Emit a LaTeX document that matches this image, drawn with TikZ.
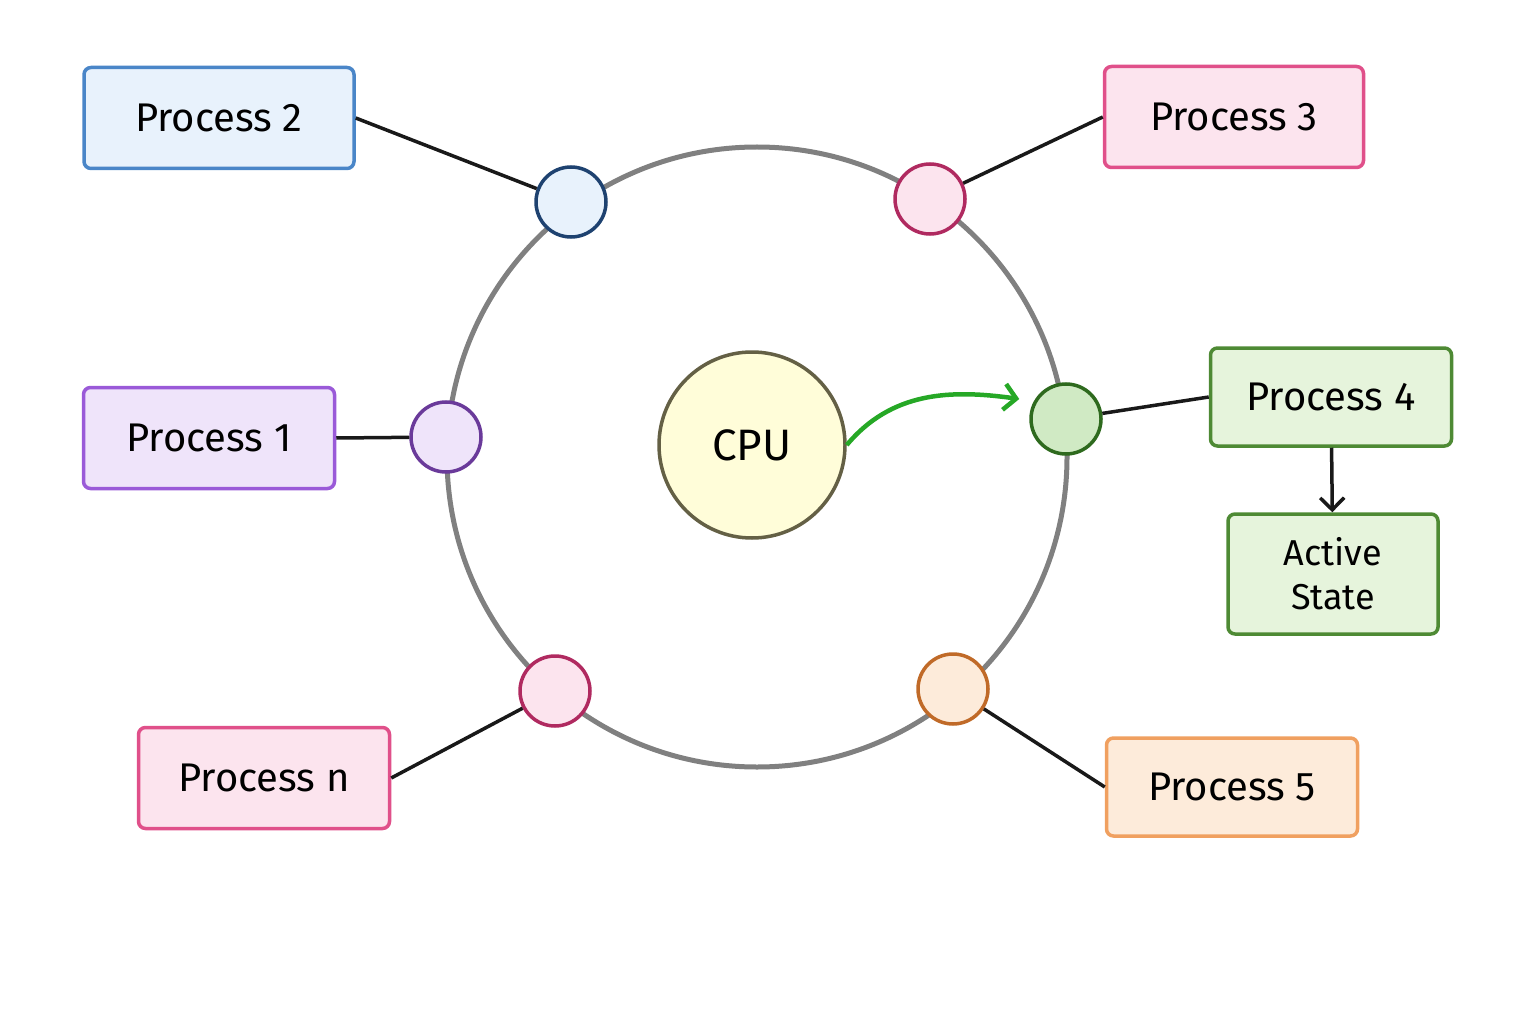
\documentclass[tikz,border=0pt]{standalone}
\usepackage{fontspec}
\setmainfont{Fira Sans}
\usetikzlibrary{arrows.meta}
\definecolor{bB}{HTML}{4A86C8}\definecolor{bF}{HTML}{E8F2FC}\definecolor{bD}{HTML}{1E4270}
\definecolor{pB}{HTML}{E0508A}\definecolor{pF}{HTML}{FCE4EE}\definecolor{pD}{HTML}{B02A60}
\definecolor{vB}{HTML}{9A5AD8}\definecolor{vF}{HTML}{EFE4FA}\definecolor{vD}{HTML}{6A3A9A}
\definecolor{gB}{HTML}{4E8A34}\definecolor{gF}{HTML}{E6F4DC}\definecolor{gD}{HTML}{2E6A1E}
\definecolor{oB}{HTML}{F0A060}\definecolor{oF}{HTML}{FDEBDA}\definecolor{oD}{HTML}{C06A28}
\definecolor{gF2}{HTML}{D0EAC4}
\begin{document}
\begin{tikzpicture}[x=1pt,y=-1pt,
 box/.style={draw=#1B,fill=#1F,line width=3.5pt,rounded corners=7pt,font=\fontsize{40}{44}\selectfont,align=center},
 dot/.style={circle,draw=#1D,fill=#1F,line width=3.5pt,minimum size=70pt,inner sep=0pt},
 ln/.style={line width=3.5pt,black!90}]
\useasboundingbox (0,0) rectangle (1536,1024);
\draw[line width=5pt,black!50] (757,457) circle (310);
\node[circle,draw=black!70!yellow,fill=yellow!15,line width=3.5pt,minimum size=186pt,font=\fontsize{44}{48}\selectfont] (cpu) at (752,445) {CPU};
\node[dot=b] (d2) at (571,202) {};
\node[dot=p] (d3) at (930,199) {};
\node[dot=v] (d1) at (446,437) {};
\node[dot=g,fill=gF2] (d4) at (1066,419) {};
\node[dot=p] (dn) at (555,691) {};
\node[dot=o] (d5) at (953,689) {};
\node[box=b,minimum width=270pt,minimum height=101pt] (p2) at (219,118) {Process 2};
\node[box=p,minimum width=259pt,minimum height=101pt] (p3) at (1234,117) {Process 3};
\node[box=v,minimum width=251pt,minimum height=101pt] (p1) at (209,438) {Process 1};
\node[box=g,minimum width=241pt,minimum height=98pt] (p4) at (1331,397) {Process 4};
\node[box=g,minimum width=210pt,minimum height=120pt,font=\fontsize{36}{44}\selectfont] (as) at (1333,574) {Active\\State};
\node[box=p,minimum width=251pt,minimum height=101pt] (pn) at (264,778) {Process n};
\node[box=o,minimum width=251pt,minimum height=98pt] (p5) at (1232,787) {Process 5};
\draw[ln] (p2.east) -- (d2); \draw[ln] (p3.west) -- (d3); \draw[ln] (p1.east) -- (d1);
\draw[ln] (p4.west) -- (d4); \draw[ln] (pn.east) -- (dn); \draw[ln] (p5.west) -- (d5);
\draw[ln,-{Straight Barb[length=12pt,width=24pt]}] (p4) -- (as);
\draw[line width=4.5pt,green!60!black!85,-{Straight Barb[length=12pt,width=26pt]}] (cpu.east) to[out=50,in=172] ([xshift=-10pt,yshift=20pt]d4.west);
\end{tikzpicture}
\end{document}
